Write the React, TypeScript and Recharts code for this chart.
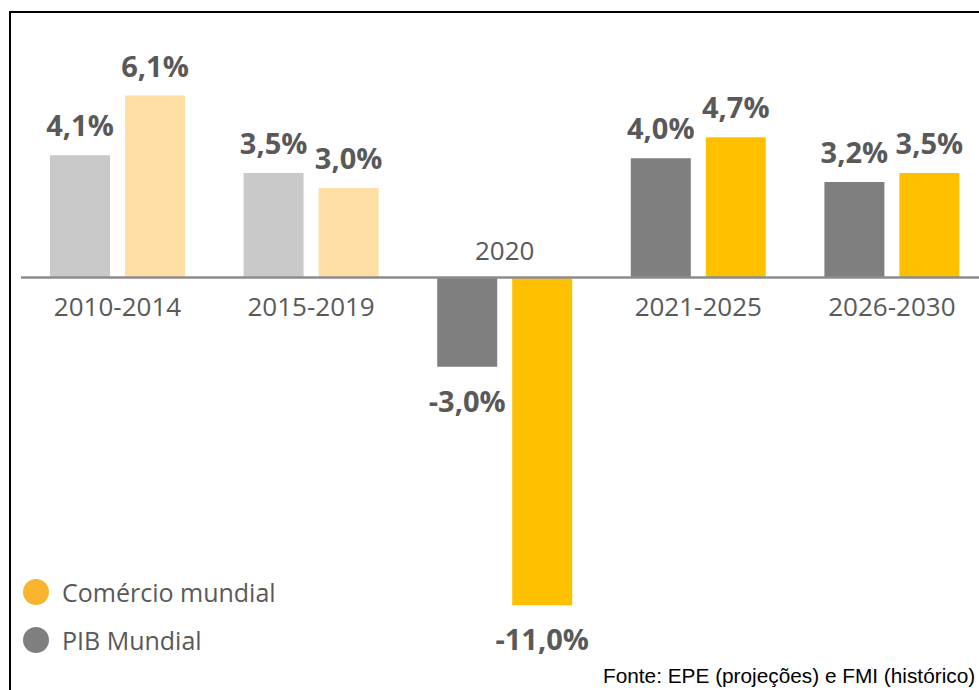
import React from 'react';
import { BarChart, Bar, XAxis, YAxis, Cell, LabelList, ReferenceLine, Legend } from 'recharts';

// Periods and growth rates (% a.a.)
const periods = ['2010-2014', '2015-2019', '2020', '2021-2025', '2026-2030'];
const pibMundial = [4.1, 3.5, -3.0, 4.0, 3.2];
const comercioMundial = [6.1, 3.0, -11.0, 4.7, 3.5];
const historicalPeriods = ['2010-2014', '2015-2019'];
const legendOrder = ['Comércio mundial', 'PIB Mundial'];

const data = periods.map((period, i) => ({
  period,
  pib: pibMundial[i],
  comercio: comercioMundial[i],
}));

const FONT = '"Open Sans", sans-serif';
const TEXT = '#595959';
const BAR_SIZE = 60;
const BAR_GAP = 15;

const COLORS = {
  pib: '#7F7F7F',
  pibLight: '#C9C9C9',
  comercio: '#FFC000',
  comercioLight: '#FEDFA3',
  comercioLegend: '#F9B42D',
};

const fmt = (v: number) => `${v.toFixed(1).replace('.', ',')}%`;

const rectOf = (props: any) => {
  const vb = props.viewBox || {};
  const x = Number(vb.x ?? props.x);
  const y = Number(vb.y ?? props.y);
  const w = Number(vb.width ?? props.width);
  const h = Number(vb.height ?? props.height);
  return { x, y, w, h };
};

const ValueLabel = (props: any) => {
  const { x, y, w, h } = rectOf(props);
  const v = Number(props.value);
  const top = Math.min(y, y + h);
  const bottom = Math.max(y, y + h);
  return (
    <text
      x={x + w / 2}
      y={v >= 0 ? top - 19 : bottom + 45}
      textAnchor="middle"
      fill={TEXT}
      fontFamily={FONT}
      fontSize={29}
      fontWeight={700}
    >
      {fmt(v)}
    </text>
  );
};

// category name sits on the zero line, above it when the bars go negative
const PeriodLabel = (props: any) => {
  const { x, y, w, h } = rectOf(props);
  const v = pibMundial[periods.indexOf(props.value)];
  const zero = v >= 0 ? Math.max(y, y + h) : Math.min(y, y + h);
  return (
    <text
      x={x + w + BAR_GAP / 2}
      y={v >= 0 ? zero + 39 : zero - 17}
      textAnchor="middle"
      fill={TEXT}
      fontFamily={FONT}
      fontSize={26}
    >
      {props.value}
    </text>
  );
};

const LegendContent = (props: any) => {
  const items = [...(props.payload || [])].sort(
    (a: any, b: any) => legendOrder.indexOf(a.value) - legendOrder.indexOf(b.value)
  );
  return (
    <div style={{ fontFamily: FONT, fontSize: 25, color: TEXT }}>
      {items.map((item: any) => (
        <div key={item.value} style={{ display: 'flex', alignItems: 'center', height: 48 }}>
          <span
            style={{
              display: 'inline-block',
              width: 26,
              height: 26,
              borderRadius: '50%',
              background: item.color,
              marginRight: 13,
            }}
          />
          <span>{item.value}</span>
        </div>
      ))}
    </div>
  );
};

export default function App() {
  return (
    <div
      style={{
        position: 'fixed',
        left: 0,
        top: 0,
        width: 979,
        height: 690,
        overflow: 'hidden',
        background: '#fff',
      }}
    >
      <div
        style={{
          position: 'absolute',
          left: 9,
          top: 11,
          width: 1100,
          height: 800,
          border: '2px solid #000',
          boxSizing: 'border-box',
        }}
      />
      <BarChart
        width={1000}
        height={690}
        data={data}
        margin={{ top: 39, right: 11, bottom: 55, left: 21 }}
        barSize={BAR_SIZE}
        barGap={BAR_GAP}
      >
        <XAxis dataKey="period" hide />
        <YAxis hide domain={[-12, 8]} />
        <Legend
          layout="horizontal"
          verticalAlign="middle"
          align="center"
          content={LegendContent}
          wrapperStyle={{ left: 23, top: 568, width: 320 }}
        />
        <Bar dataKey="pib" name="PIB Mundial" fill={COLORS.pib} isAnimationActive={false}>
          {data.map((d) => (
            <Cell
              key={d.period}
              fill={historicalPeriods.includes(d.period) ? COLORS.pibLight : COLORS.pib}
            />
          ))}
          <LabelList dataKey="pib" content={ValueLabel} />
          <LabelList dataKey="period" content={PeriodLabel} />
        </Bar>
        <Bar
          dataKey="comercio"
          name="Comércio mundial"
          fill={COLORS.comercioLegend}
          isAnimationActive={false}
        >
          {data.map((d) => (
            <Cell
              key={d.period}
              fill={historicalPeriods.includes(d.period) ? COLORS.comercioLight : COLORS.comercio}
            />
          ))}
          <LabelList dataKey="comercio" content={ValueLabel} />
        </Bar>
        <ReferenceLine y={0} stroke="#8C8C8C" strokeWidth={2.5} />
      </BarChart>
      <div
        style={{
          position: 'absolute',
          left: 603,
          top: 665,
          fontFamily: '"Liberation Sans", Arial, sans-serif',
          fontSize: 20.8,
          lineHeight: '21px',
          color: '#000',
          whiteSpace: 'nowrap',
        }}
      >
        Fonte: EPE (projeções) e FMI (histórico)
      </div>
    </div>
  );
}
